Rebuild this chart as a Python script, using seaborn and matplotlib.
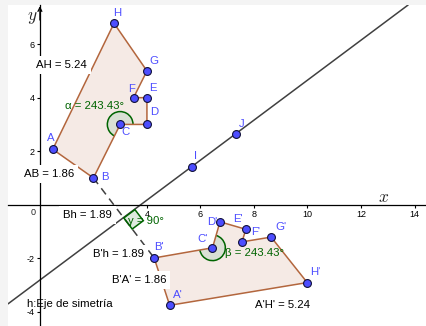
import numpy as np
import pandas as pd
import matplotlib
matplotlib.use("Agg")
import matplotlib.pyplot as plt
from matplotlib.patches import Wedge, Arc, Polygon
import seaborn as sns

# ---------------- data ----------------
orig_names = ["A", "B", "C", "D", "E", "F", "G", "H"]
orig_x = [0.48, 2.0, 3.0, 4.0, 4.0, 3.5, 4.0, 2.77]
orig_y = [2.07, 1.0, 3.0, 3.0, 4.0, 4.0, 5.0, 6.78]

refl_names = ["A'", "B'", "C'", "D'", "E'", "F'", "G'", "H'"]
refl_x = [4.85, 4.27, 6.45, 6.73, 7.70, 7.55, 8.64, 9.99]
refl_y = [-3.76, -1.99, -1.61, -0.64, -0.92, -1.39, -1.21, -2.91]

axis_names = ["I", "J"]
axis_x = [5.67, 7.33]
axis_y = [1.42, 2.66]

measure_names = ["AH", "AB", "Bh", "B'h", "B'A'", "A'H'"]
measure_values = [5.24, 1.86, 1.89, 1.89, 1.86, 5.24]
angle_names = ["α", "β", "γ"]
angle_values = [243.43, 243.43, 90]
line_caption = "h:Eje de simetría"

x_ticks = [2, 4, 6, 8, 10, 12, 14]
y_ticks = [-4, -2, 2, 4, 6]

# ---------------- style ----------------
sns.set_theme(style="white")
plt.rcParams["font.family"] = ["Liberation Sans", "DejaVu Sans"]
plt.rcParams["axes.unicode_minus"] = False
plt.rcParams["mathtext.fontset"] = "cm"

POLY_EDGE = "#b3663d"
POLY_FILL = "#f5eae5"
PT_COLOR = "#4d4dff"
LBL_COLOR = "#4d4dff"
GREEN = "#006400"
SECTOR = "#dae0d4"
LINE_C = "#404040"
FS = 8.2

fig = plt.figure(figsize=(4.27, 3.26), dpi=100)
fig.patch.set_facecolor("#f4f4f4")
ax = fig.add_axes([8 / 427, 0, 419 / 427, 321 / 326])
ax.set_facecolor("white")
ax.set_xlim(-1.192, 14.466)
ax.set_ylim(-4.533, 7.463)
ax.set_aspect("equal")

# axes through origin
for s in ["top", "right"]:
    ax.spines[s].set_visible(False)
ax.spines["left"].set_position(("data", 0))
ax.spines["bottom"].set_position(("data", 0))
for s in ["left", "bottom"]:
    ax.spines[s].set_color("black")
    ax.spines[s].set_linewidth(0.9)
ax.set_xticks(x_ticks)
ax.set_yticks(y_ticks)
ax.set_xticklabels([str(v) for v in x_ticks])
ax.set_yticklabels([str(v) for v in y_ticks])
ax.tick_params(axis="both", direction="out", length=2.2, width=0.8,
               labelsize=6.5, colors="black", pad=1.3)
ax.tick_params(axis="both", bottom=True, left=True)
ax.text(-0.25, -0.31, "0", fontsize=6.5, ha="center", va="center")
ax.annotate("", xy=(0, 7.42), xytext=(0, 6.9),
            arrowprops=dict(arrowstyle="->", lw=0.9, color="black",
                            mutation_scale=7, shrinkA=0, shrinkB=0))
ax.text(-0.29, 6.98, r"$y$", fontsize=12.5, ha="center", va="center")
ax.text(12.84, 0.26, r"$x$", fontsize=12.5, ha="center", va="center")

# ---------------- polygons ----------------
df_o = pd.DataFrame({"name": orig_names, "x": orig_x, "y": orig_y})
df_r = pd.DataFrame({"name": refl_names, "x": refl_x, "y": refl_y})

for df in (df_o, df_r):
    ax.fill(df["x"], df["y"], facecolor=POLY_FILL, edgecolor="none", zorder=1)

# angle sectors
def ang(p, q):
    return np.degrees(np.arctan2(q[1] - p[1], q[0] - p[0])) % 360

P = {n: (x, y) for n, x, y in zip(orig_names + refl_names, orig_x + refl_x, orig_y + refl_y)}
R = 0.48
for c, a, b in (("C", "D", "B"), ("C'", "B'", "D'")):
    t1 = ang(P[c], P[a]); t2 = ang(P[c], P[b])
    if t2 < t1:
        t2 += 360
    ax.add_patch(Wedge(P[c], R, t1, t2, facecolor=SECTOR, edgecolor="none", zorder=1.5))
    ax.add_patch(Arc(P[c], 2 * R, 2 * R, theta1=t1, theta2=t2, color=GREEN, lw=1.1, zorder=1.6))

for df in (df_o, df_r):
    closed = pd.concat([df, df.iloc[[0]]], ignore_index=True)
    sns.lineplot(data=closed, x="x", y="y", sort=False, estimator=None,
                 color=POLY_EDGE, lw=1.1, ax=ax, zorder=3, legend=False)

# symmetry axis
ax.axline((axis_x[0], axis_y[0]), (axis_x[1], axis_y[1]), color=LINE_C, lw=1.1, zorder=2)

# dashed segment B-B'
ax.plot([P["B"][0], P["B'"][0]], [P["B"][1], P["B'"][1]], color=LINE_C, lw=1.1,
        dashes=[5, 3.5], zorder=2)

# right angle marker at foot (midpoint of B B')
M = np.array([(P["B"][0] + P["B'"][0]) / 2, (P["B"][1] + P["B'"][1]) / 2])
u = np.array([axis_x[1] - axis_x[0], axis_y[1] - axis_y[0]]); u /= np.linalg.norm(u)
n = np.array(P["B'"]) - M; n /= np.linalg.norm(n)
s = 0.52
sq = np.array([M, M + s * u, M + s * u + s * n, M + s * n])
ax.add_patch(Polygon(sq, closed=True, facecolor=GREEN, alpha=0.13, edgecolor="none", zorder=2.2))
ax.add_patch(Polygon(sq, closed=True, facecolor="none", edgecolor=GREEN, lw=1.1, zorder=2.3))

# ---------------- points ----------------
df_pts = pd.DataFrame({"name": orig_names + refl_names + axis_names,
                       "x": orig_x + refl_x + axis_x,
                       "y": orig_y + refl_y + axis_y})
sns.scatterplot(data=df_pts, x="x", y="y", s=32, color=PT_COLOR,
                edgecolor="#10103a", linewidth=0.8, ax=ax, zorder=6, legend=False)

label_off = {"A": (-2, 11), "B": (11, 1), "C": (5, -8), "D": (7, 12), "E": (6, 10),
             "F": (-2, 9), "G": (7, 10), "H": (3.5, 10), "I": (4, 11), "J": (6, 10),
             "A'": (8, 10), "B'": (5, 11), "C'": (-10, 9), "D'": (-8, 0),
             "E'": (-8, 10), "F'": (14, 10), "G'": (10, 10), "H'": (8, 11)}
for _, r in df_pts.iterrows():
    dx, dy = label_off[r["name"]]
    ax.annotate(r["name"], (r["x"], r["y"]), xytext=(dx * 0.72, dy * 0.72),
                textcoords="offset points", ha="center", va="center",
                fontsize=FS, color=LBL_COLOR, zorder=7)

ax.set_xlabel(""); ax.set_ylabel("")

# ---------------- measurement texts ----------------
box = dict(boxstyle="square,pad=0.35", facecolor="white", edgecolor="none")
meas_pos = {"AH": (-0.15, 5.26), "AB": (-0.60, 1.19), "Bh": (0.86, -0.35),
            "B'h": (1.98, -1.80), "B'A'": (2.69, -2.78), "A'H'": (8.04, -3.71)}
for nm, val in zip(measure_names, measure_values):
    x, y = meas_pos[nm]
    ax.text(x, y - 0.15, f"{nm} = {val:.2f}", fontsize=FS, ha="left", va="baseline",
            color="black", bbox=box, zorder=5)

ang_pos = {"α": (0.94, 3.71), "β": (6.92, -1.77), "γ": (3.28, -0.57)}
for nm, val in zip(angle_names, angle_values):
    x, y = ang_pos[nm]
    txt = f"{nm} = {val:.2f}°" if val != int(val) else f"{nm} = {int(val)}°"
    ax.text(x, y - 0.15, txt, fontsize=FS, ha="left", va="baseline", color=GREEN, zorder=5)

ax.text(-0.48, -3.68 - 0.15, line_caption, fontsize=FS, ha="left", va="baseline",
        color="black", zorder=5)

fig.savefig("out.png", dpi=100, facecolor=fig.get_facecolor())
